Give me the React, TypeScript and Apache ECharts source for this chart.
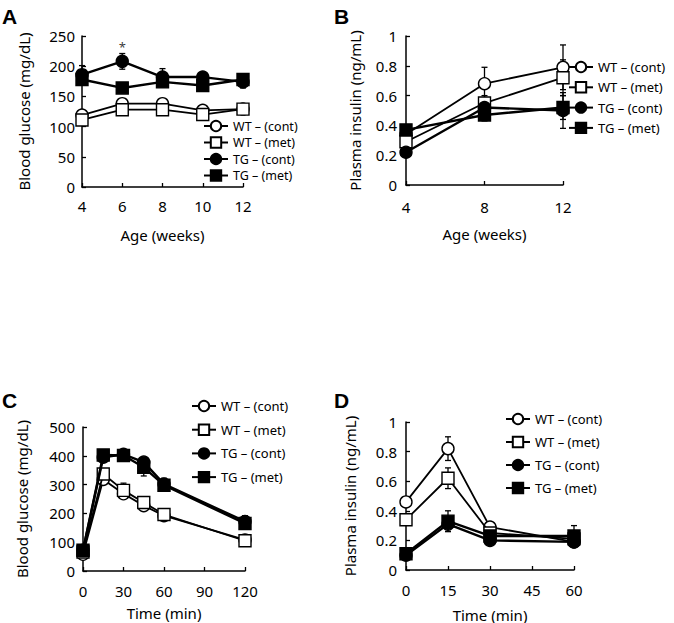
import React, { useEffect, useRef } from "react";
import * as echarts from "echarts";

const NAMES = ["WT – (cont)", "WT – (met)", "TG – (cont)", "TG – (met)"];

// Panel A: blood glucose vs age
const agesA = [4, 6, 8, 10, 12];
const wtContA = [119, 138, 138, 127, 129];
const wtContAErr = [4, 4, 4, 3, 3];
const wtMetA = [111, 128, 128, 120, 129];
const wtMetAErr = [5, 4, 3, 3, 3];
const tgContA = [186, 208, 182, 182, 174];
const tgContAErr = [15, 13, 14, 6, 10];
const tgMetA = [178, 164, 174, 168, 178];
const tgMetAErr = [8, 4, 8, 8, 6];
const starA = [[6, 231]];

// Panel B: plasma insulin vs age
const agesB = [4, 8, 12];
const wtContB = [0.34, 0.68, 0.79];
const wtContBErr = [0.03, 0.11, 0.15];
const wtMetB = [0.29, 0.55, 0.72];
const wtMetBErr = [0.03, 0.05, 0.12];
const tgContB = [0.22, 0.52, 0.5];
const tgContBErr = [0.02, 0.06, 0.12];
const tgMetB = [0.37, 0.47, 0.52];
const tgMetBErr = [0.03, 0.04, 0.08];

// Panel C: blood glucose vs time (GTT)
const timesC = [0, 15, 30, 45, 60, 120];
const wtContC = [58, 318, 268, 227, 192, 108];
const wtContCErr = [6, 12, 10, 10, 8, 12];
const wtMetC = [66, 337, 280, 238, 196, 105];
const wtMetCErr = [6, 14, 25, 20, 18, 10];
const tgContC = [72, 395, 405, 378, 302, 172];
const tgContCErr = [8, 10, 12, 15, 20, 20];
const tgMetC = [72, 403, 401, 360, 298, 165];
const tgMetCErr = [8, 10, 12, 30, 15, 15];

// Panel D: plasma insulin vs time
const timesD = [0, 15, 30, 60];
const wtContD = [0.46, 0.82, 0.29, 0.19];
const wtContDErr = [0.02, 0.08, 0.02, 0.02];
const wtMetD = [0.34, 0.62, 0.25, 0.21];
const wtMetDErr = [0.02, 0.07, 0.02, 0.03];
const tgContD = [0.1, 0.31, 0.2, 0.19];
const tgContDErr = [0.03, 0.05, 0.02, 0.02];
const tgMetD = [0.11, 0.33, 0.23, 0.23];
const tgMetDErr = [0.03, 0.07, 0.03, 0.07];

const FONT = "Noto Sans";

const STYLES = [
  { symbol: "circle", fill: "#ffffff", width: 1.8 },
  { symbol: "rect", fill: "#ffffff", width: 1.8 },
  { symbol: "circle", fill: "#000000", width: 2.4 },
  { symbol: "rect", fill: "#000000", width: 2.4 },
];

function errSeries(idx: number, xs: number[], ys: number[], es: number[]) {
  return {
    type: "custom",
    name: "err" + idx,
    xAxisIndex: idx,
    yAxisIndex: idx,
    z: 1,
    silent: true,
    encode: { x: 0, y: 1 },
    data: xs.map((x, i) => [x, ys[i], es[i]]),
    renderItem: (params: any, api: any) => {
      const x = api.value(0);
      const y = api.value(1);
      const e = api.value(2);
      const top = api.coord([x, y + e]);
      const bot = api.coord([x, y - e]);
      const hw = 3;
      const st = { stroke: "#000", lineWidth: 1.3 };
      return {
        type: "group",
        children: [
          { type: "line", shape: { x1: top[0], y1: top[1], x2: bot[0], y2: bot[1] }, style: st },
          { type: "line", shape: { x1: top[0] - hw, y1: top[1], x2: top[0] + hw, y2: top[1] }, style: st },
          { type: "line", shape: { x1: bot[0] - hw, y1: bot[1], x2: bot[0] + hw, y2: bot[1] }, style: st },
        ],
      };
    },
  };
}

function lineSeries(idx: number, k: number, xs: number[], ys: number[]) {
  const s = STYLES[k];
  return {
    type: "line",
    name: NAMES[k],
    xAxisIndex: idx,
    yAxisIndex: idx,
    z: 2 + k,
    data: xs.map((x, i) => [x, ys[i]]),
    symbol: s.symbol,
    symbolSize: 12,
    showSymbol: true,
    lineStyle: { color: "#000", width: s.width },
    itemStyle: { color: s.fill, borderColor: "#000", borderWidth: 1.4 },
  };
}

function panel(idx: number, xs: number[], sets: number[][], errs: number[][]) {
  const out: any[] = [];
  for (let k = 0; k < 4; k++) out.push(errSeries(idx, xs, sets[k], errs[k]));
  for (let k = 0; k < 4; k++) out.push(lineSeries(idx, k, xs, sets[k]));
  return out;
}

function axis(extra: any, margin: number) {
  return {
    type: "value",
    axisLine: { show: true, onZero: false, lineStyle: { color: "#000", width: 1.5 } },
    axisTick: { show: true, inside: true, length: 4, lineStyle: { color: "#000", width: 1.3 } },
    splitLine: { show: false },
    axisLabel: { color: "#000", fontSize: 15, fontFamily: FONT, fontWeight: "normal", margin },
    nameLocation: "middle",
    nameTextStyle: { color: "#000", fontSize: 15, fontFamily: FONT, fontWeight: "normal" },
    ...extra,
  };
}

function legend(left: number, top: number, gap: number, fs: number) {
  return {
    data: NAMES,
    orient: "vertical",
    left,
    top,
    padding: 0,
    itemWidth: 24,
    itemHeight: 13,
    itemGap: gap,
    selectedMode: false,
    textStyle: { color: "#000", fontSize: fs, lineHeight: 14, fontFamily: FONT, fontWeight: "normal" },
  };
}

function panelLabel(text: string, x: number, y: number) {
  return {
    type: "text",
    left: x,
    top: y,
    style: { text, fontSize: 21, fontWeight: "bold", fontFamily: "Liberation Sans", fill: "#000" },
  };
}

export default function App() {
  const ref = useRef<HTMLDivElement>(null);
  useEffect(() => {
    if (!ref.current) return;
    const chart = echarts.init(ref.current, undefined, { renderer: "svg" });
    const option: any = {
      animation: false,
      backgroundColor: "#ffffff",
      grid: [
        { left: 82, top: 36, width: 161, height: 151 },
        { left: 406, top: 36, width: 157, height: 149 },
        { left: 83, top: 427, width: 162, height: 144 },
        { left: 406, top: 422, width: 168, height: 148 },
      ],
      xAxis: [
        axis({ gridIndex: 0, min: 4, max: 12, interval: 2, name: "Age (weeks)", nameGap: 40 }, 11),
        axis({ gridIndex: 1, min: 4, max: 12, interval: 4, name: "Age (weeks)", nameGap: 41 }, 14),
        axis({ gridIndex: 2, min: 0, max: 120, interval: 30, name: "Time (min)", nameGap: 34 }, 12),
        axis({ gridIndex: 3, min: 0, max: 60, interval: 15, name: "Time (min)", nameGap: 37 }, 12),
      ],
      yAxis: [
        axis({ gridIndex: 0, min: 0, max: 250, interval: 50, name: "Blood glucose (mg/dL)", nameGap: 51 }, 7),
        axis({ gridIndex: 1, min: 0, max: 1, interval: 0.2, name: "Plasma insulin (ng/mL)", nameGap: 44 }, 9),
        axis({ gridIndex: 2, min: 0, max: 500, interval: 100, name: "Blood glucose (mg/dL)", nameGap: 54 }, 8),
        axis({ gridIndex: 3, min: 0, max: 1, interval: 0.2, name: "Plasma insulin (ng/mL)", nameGap: 49 }, 9),
      ],
      legend: [
        legend(203, 119, 2.5, 12.5),
        legend(568, 60, 6.3, 13),
        legend(191, 399, 9.7, 13),
        legend(505, 412, 9, 13),
      ],
      graphic: [
        panelLabel("A", 2, 6),
        panelLabel("B", 334, 6),
        panelLabel("C", 2, 390),
        panelLabel("D", 334, 390),
      ],
      series: [
        ...panel(0, agesA, [wtContA, wtMetA, tgContA, tgMetA], [wtContAErr, wtMetAErr, tgContAErr, tgMetAErr]),
        ...panel(1, agesB, [wtContB, wtMetB, tgContB, tgMetB], [wtContBErr, wtMetBErr, tgContBErr, tgMetBErr]),
        ...panel(2, timesC, [wtContC, wtMetC, tgContC, tgMetC], [wtContCErr, wtMetCErr, tgContCErr, tgMetCErr]),
        ...panel(3, timesD, [wtContD, wtMetD, tgContD, tgMetD], [wtContDErr, wtMetDErr, tgContDErr, tgMetDErr]),
        {
          type: "scatter",
          name: "sig",
          xAxisIndex: 0,
          yAxisIndex: 0,
          data: starA,
          symbolSize: 1,
          itemStyle: { color: "rgba(0,0,0,0)" },
          label: { show: true, formatter: "*", position: "inside", color: "#000", fontSize: 13, fontFamily: FONT },
          z: 10,
        },
      ],
    };
    chart.setOption(option);
    return () => chart.dispose();
  }, []);
  return (
    <div
      ref={ref}
      style={{ position: "fixed", left: 0, top: 0, width: 674, height: 623, background: "#fff" }}
    />
  );
}
